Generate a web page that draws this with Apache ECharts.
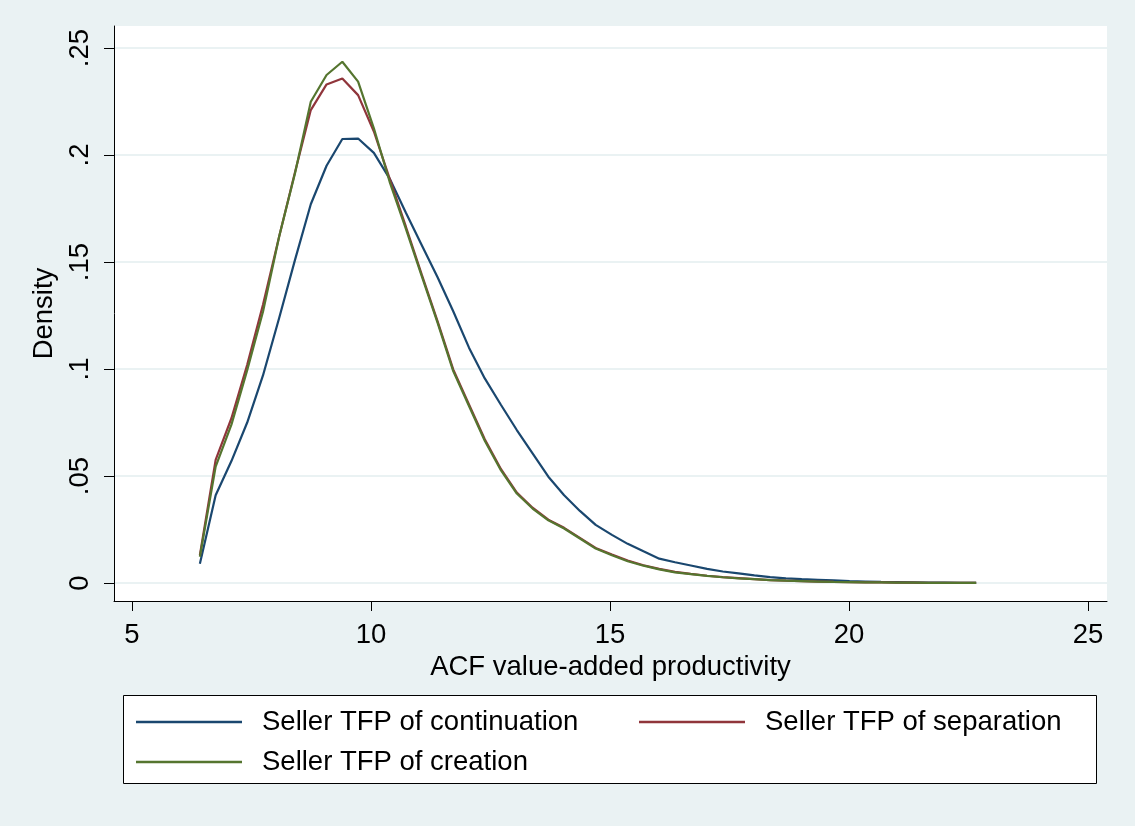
<!DOCTYPE html>
<html><head><meta charset="utf-8">
<script src="https://cdn.jsdelivr.net/npm/echarts@6/dist/echarts.min.js"></script>
<style>html,body{margin:0;padding:0;background:#EAF2F3}#c{width:1135px;height:826px}</style>
</head><body><div id="c"></div>
<script>
const xValues = [6.42, 6.75, 7.08, 7.41, 7.74, 8.08, 8.41, 8.74, 9.07, 9.40, 9.73, 10.06, 10.39, 10.73, 11.06, 11.39, 11.72, 12.05, 12.38, 12.72, 13.05, 13.38, 13.71, 14.04, 14.37, 14.70, 15.04, 15.37, 15.70, 16.03, 16.36, 16.69, 17.03, 17.36, 17.69, 18.02, 18.35, 18.68, 19.01, 19.35, 19.68, 20.01, 20.34, 20.67, 21.00, 21.34, 21.67, 22.00, 22.33, 22.66];
const continuation = [0.009, 0.041, 0.057, 0.075, 0.097, 0.124, 0.151, 0.177, 0.195, 0.2075, 0.2077, 0.201, 0.189, 0.173, 0.158, 0.143, 0.127, 0.110, 0.0956, 0.0832, 0.0715, 0.0606, 0.0497, 0.0410, 0.0337, 0.0272, 0.0225, 0.0183, 0.0148, 0.0114, 0.0097, 0.0082, 0.0066, 0.0054, 0.0045, 0.0036, 0.0028, 0.0022, 0.0018, 0.0015, 0.0012, 0.0009, 0.0007, 0.0005, 0.0004, 0.0003, 0.0002, 0.0002, 0.0001, 0.0001];
const separation = [0.013, 0.0575, 0.077, 0.102, 0.130, 0.162, 0.192, 0.221, 0.233, 0.2358, 0.228, 0.211, 0.189, 0.1665, 0.1442, 0.1225, 0.0998, 0.0835, 0.0672, 0.0532, 0.0423, 0.0352, 0.0296, 0.0258, 0.0211, 0.0164, 0.0133, 0.0105, 0.0083, 0.0066, 0.0052, 0.0043, 0.0034, 0.0028, 0.0023, 0.0018, 0.0014, 0.0011, 0.0009, 0.0007, 0.0005, 0.0004, 0.0003, 0.0003, 0.0002, 0.0002, 0.0001, 0.0001, 0.0001, 0.0001];
const creation = [0.0123, 0.0544, 0.074, 0.0995, 0.1268, 0.162, 0.1915, 0.2249, 0.2374, 0.2436, 0.2343, 0.2125, 0.1875, 0.1655, 0.1435, 0.1218, 0.0990, 0.0827, 0.0665, 0.0526, 0.0418, 0.0348, 0.0293, 0.0255, 0.0208, 0.0161, 0.0130, 0.0102, 0.0081, 0.0064, 0.0050, 0.0042, 0.0033, 0.0027, 0.0022, 0.0018, 0.0014, 0.0011, 0.0009, 0.0007, 0.0005, 0.0004, 0.0003, 0.0003, 0.0002, 0.0002, 0.0001, 0.0001, 0.0001, 0.0001];
const seriesNames = ['Seller TFP of continuation', 'Seller TFP of separation', 'Seller TFP of creation'];
const xTicks = [5, 10, 15, 20, 25];
const yTicks = [0, 0.05, 0.1, 0.15, 0.2, 0.25];
const yTickLabels = ['0', '.05', '.1', '.15', '.2', '.25'];
const xTitle = 'ACF value-added productivity';
const yTitle = 'Density';

const colors = ['#1a476f', '#90353b', '#55752f'];
const FONT = 'Liberation Sans, Arial, sans-serif';
const FS = 27.5;

function yLabel(v) {
  for (let i = 0; i < yTicks.length; i++) if (Math.abs(yTicks[i] - v) < 1e-9) return yTickLabels[i];
  return '';
}

const chart = echarts.init(document.getElementById('c'), null, {renderer: 'canvas'});
const seriesData = [continuation, separation, creation];
const legendPos = [{left: 136, top: 708}, {left: 639, top: 708}, {left: 136, top: 748}];

chart.setOption({
  backgroundColor: '#EAF2F3',
  animation: false,
  textStyle: {fontFamily: FONT, color: '#000'},
  graphic: [{
    type: 'rect', z: 0,
    shape: {x: 123.5, y: 695.5, width: 973, height: 88},
    style: {fill: '#fff', stroke: '#000', lineWidth: 1}
  }],
  grid: {left: 114, right: 28, top: 26, bottom: 225, show: true, backgroundColor: '#fff', borderWidth: 0},
  xAxis: {
    type: 'value', min: 4.6234, max: 25.397,
    name: xTitle, nameLocation: 'middle', nameGap: 43,
    nameTextStyle: {fontSize: FS, color: '#000', fontFamily: FONT},
    axisLine: {show: true, onZero: false, lineStyle: {color: '#000', width: 1}},
    axisTick: {show: true, length: 10, customValues: xTicks, lineStyle: {color: '#000', width: 1}},
    axisLabel: {customValues: xTicks, fontSize: FS, color: '#000', margin: 20, fontFamily: FONT},
    splitLine: {show: false}
  },
  yAxis: {
    type: 'value', min: -0.0084, max: 0.2603,
    name: yTitle, nameLocation: 'middle', nameGap: 52,
    nameTextStyle: {fontSize: FS, color: '#000', fontFamily: FONT},
    axisLine: {show: true, onZero: false, lineStyle: {color: '#000', width: 1}},
    axisTick: {show: true, length: 10, customValues: yTicks, lineStyle: {color: '#000', width: 1}},
    axisLabel: {customValues: yTicks, rotate: 90, fontSize: FS, color: '#000', margin: 20, fontFamily: FONT, formatter: yLabel},
    splitLine: {show: true, lineStyle: {color: '#EAF2F3', width: 2}}
  },
  legend: seriesNames.map((n, i) => ({
    data: [n], left: legendPos[i].left, top: legendPos[i].top, z: 10, padding: 0,
    icon: 'rect', itemWidth: 106, itemHeight: 2.5, itemGap: 0,
    selectedMode: false,
    textStyle: {fontSize: FS, color: '#000', fontFamily: FONT, padding: [0, 0, 0, 15]}
  })),
  series: seriesNames.map((n, i) => ({
    name: n, type: 'line', symbol: 'none', smooth: false,
    data: xValues.map((x, j) => [x, seriesData[i][j]]),
    lineStyle: {color: colors[i], width: 2.2},
    itemStyle: {color: colors[i]},
    z: 2 + i
  }))
});
</script></body></html>
